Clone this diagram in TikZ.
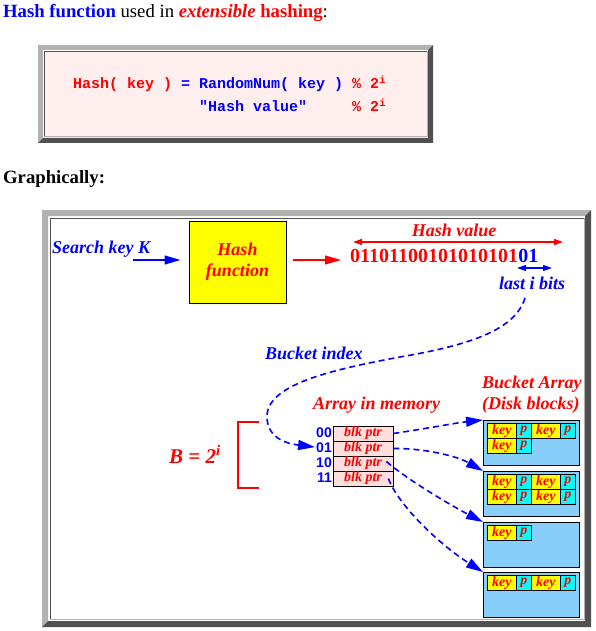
\documentclass[tikz,border=0pt]{standalone}
\usepackage{fontspec}
\setmainfont{Liberation Serif}
\setsansfont{Liberation Sans}
\setmonofont{Liberation Mono}
\usetikzlibrary{arrows.meta,positioning,calc}

\definecolor{hblue}{RGB}{0,0,255}
\definecolor{hred}{RGB}{255,0,0}
\definecolor{codepink}{RGB}{255,238,238}
\definecolor{cellpink}{RGB}{255,222,222}
\definecolor{diskblue}{RGB}{135,206,250}
\definecolor{keyyellow}{RGB}{255,255,0}
\definecolor{pcyan}{RGB}{0,255,255}
\definecolor{bevlight}{RGB}{178,178,178}
\definecolor{bevdark}{RGB}{80,80,80}

\newcommand{\fsz}[1]{\fontsize{#1}{#1}\selectfont}
% raised 3d frame: x1 y1 x2 y2 thickness
\newcommand{\bevelframe}[5]{%
  \fill[bevlight] (#1,#2) -- (#3,#2) -- (#3-#5,#2+#5) -- (#1+#5,#2+#5) -- (#1+#5,#4-#5) -- (#1,#4) -- cycle;
  \fill[bevdark] (#3,#4) -- (#1,#4) -- (#1+#5,#4-#5) -- (#3-#5,#4-#5) -- (#3-#5,#2+#5) -- (#3,#2) -- cycle;}

\tikzset{
  lbl/.style={font=\fsz{18}\bfseries\itshape,inner sep=0pt},
  rlbl/.style={lbl,text=hred},
  blbl/.style={lbl,text=hblue},
  fnbox/.style={draw,fill=keyyellow,line width=1pt,minimum width=97pt,minimum height=82pt,align=center},
  ptrcell/.style={draw,fill=cellpink,line width=0.8pt,minimum width=60pt,minimum height=15pt,inner sep=0pt,font=\fsz{14}\bfseries\itshape,text=hred},
  idxlbl/.style={font=\sffamily\bfseries\fsz{14},text=hblue,anchor=base east,inner sep=0pt},
  diskblk/.style={draw,fill=diskblue,line width=1pt,minimum width=96pt,minimum height=45pt,anchor=north west,inner sep=0pt},
  keycell/.style={draw,fill=keyyellow,line width=0.8pt,minimum width=29pt,minimum height=15pt,inner sep=0pt,anchor=north west,font=\fsz{14}\bfseries\itshape,text=hred},
  pcell/.style={keycell,fill=pcyan,minimum width=15pt},
  barr/.style={-{Triangle[length=16pt,width=9pt]},hblue,line width=1.3pt},
  rarr/.style={-{Triangle[length=16pt,width=9pt]},hred,line width=1.3pt},
  dimarr/.style={{Triangle[length=9pt,width=6pt]}-{Triangle[length=9pt,width=6pt]},line width=1.5pt},
  darr/.style={-{Triangle[length=17pt,width=10pt]},hblue,line width=1.6pt,dash pattern=on 6pt off 4pt}
}

\begin{document}
\begin{tikzpicture}[x=1pt,y=-1pt]
  \useasboundingbox (0,0) rectangle (595,631);

  % heading
  \node[anchor=base west,inner sep=0pt,font=\fsz{18.7}] (title) at (3,18)
    {\textcolor{hblue}{\bfseries Hash function} used in \textcolor{hred}{\bfseries\itshape extensible} \textcolor{hred}{\bfseries hashing}:};

  % code box
  \bevelframe{38}{45}{433}{143}{5}
  \fill[codepink] (44,51) rectangle (427,136);
  \draw[bevdark,line width=0.8pt] (44,136) -- (44,51) -- (427,51);
  \draw[bevlight,line width=0.8pt] (427,51) -- (427,136) -- (44,136);
  \node[anchor=base west,inner sep=0pt,font=\ttfamily\bfseries\fsz{15}] (codeA) at (73,89)
    {\textcolor{hred}{Hash( key )} \textcolor{hblue}{= RandomNum( key )} \textcolor{hred}{\% 2\textsuperscript{i}}};
  \node[anchor=base west,inner sep=0pt,font=\ttfamily\bfseries\fsz{15}] (codeB) at (73,112)
    {\hphantom{00000000000000}\textcolor{hblue}{"Hash value"}\hphantom{00000}\textcolor{hred}{\% 2\textsuperscript{i}}};

  \node[anchor=base west,inner sep=0pt,font=\fsz{18.7}\bfseries] (graph) at (3,183) {Graphically:};

  % diagram frame
  \bevelframe{42}{210}{591}{627}{6}
  \draw[bevdark,line width=0.8pt] (50,619) -- (50,218) -- (584,218);
  \draw[bevlight,line width=0.8pt] (584,218) -- (584,619) -- (50,619);

  % hash function
  \node[blbl,anchor=base west] (skey) at (52,253) {Search key K};
  \coordinate (kin) at (133,260);
  \node[fnbox,font=\fontsize{18}{21}\selectfont\bfseries\itshape,text=hred] (hashfn) at (237.5,262) {Hash\\function};
  \draw[barr,shorten >=8pt] (kin) -- (kin -| hashfn.west);

  \node[anchor=base west,inner sep=0pt,font=\fsz{20}\bfseries,text=hred] (hibits) at (350,262) {01101100101010101};
  \node[anchor=base west,inner sep=0pt,font=\fsz{20}\bfseries,text=hblue] (lobits) at (hibits.base east) {01};
  \draw[rarr,shorten <=6pt,shorten >=9pt] (kin -| hashfn.east) -- (kin -| hibits.west);

  \node[rlbl,anchor=base] (hval) at (454,236) {Hash value};
  \coordinate (hvl) at (353,242);
  \coordinate (hvr) at (563,242);
  \draw[dimarr,hred] (hvl) -- (hvr);

  \coordinate (lbl) at (517,268);
  \coordinate (lbr) at (552,268);
  \draw[dimarr,hblue,line width=1.2pt] (lbl) -- (lbr);
  \node[blbl,anchor=base west] (lastbits) at (499,289) {last i bits};

  % directory in memory
  \node[blbl,anchor=base west] (bidx) at (265,359) {Bucket index};
  \node[rlbl,anchor=base west] (arrmem) at (313,409) {Array in memory};
  \foreach \b [count=\k from 0] in {00,01,10,11} {
    \node[ptrcell] (c\b) at (363,433.5+15*\k) {blk ptr};
    \node[idxlbl] (i\b) at (332,437+15*\k) {\b};
  }
  \draw[hred,line width=2pt] (259,422) -| (238,488) -- (259,488);
  \node[anchor=base west,inner sep=0pt,font=\fsz{21}\bfseries\itshape,text=hred] (bsize) at (169,463) {B = 2\textsuperscript{i}};

  % disk blocks
  \node[rlbl,anchor=base west] (bktA) at (482,388) {Bucket Array};
  \node[rlbl,anchor=base west] (bktB) at (482,409) {(Disk blocks)};
  \foreach \t [count=\n] in {420,471,522,572}
    \node[diskblk] (blk\n) at (483,\t) {};
  \foreach \x/\y [count=\n] in {487/423,531/423,487/438,487/474,531/474,487/489,531/489,487/525,487/575,531/575} {
    \node[keycell] (key\n) at (\x,\y) {key};
    \node[pcell] (p\n) at (\x+29,\y) {p};
  }

  % pointers
  \coordinate (idxstart) at (525,298);
  \draw[darr,shorten >=1pt] (idxstart) .. controls (515,330) and (470,345) .. (400,357)
    .. controls (330,370) and (265,385) .. (267,418)
    .. controls (268,440) and (290,444) .. (i01.west);
  \draw[darr] (c00.east) .. controls (430,428) and (455,423) .. (blk1.north west);
  \draw[darr] (c01.east) .. controls (420,448) and (455,455) .. (blk2.north west);
  \draw[darr] ([shift={(-7pt,2pt)}]c10.east) .. controls (405,478) and (450,505) .. (blk3.north west);
  \draw[darr] ([xshift=-5pt]c11.east) .. controls (398,505) and (440,545) .. (blk4.north west);
\end{tikzpicture}
\end{document}
